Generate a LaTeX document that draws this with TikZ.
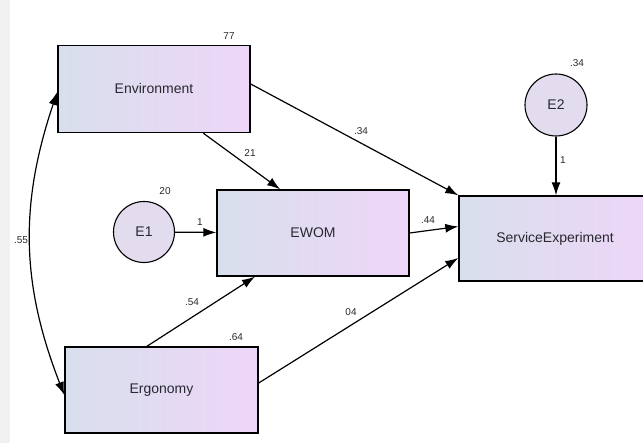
\documentclass[tikz,border=0pt]{standalone}
\usepackage{fontspec}
\setmainfont{Liberation Sans}
\usetikzlibrary{arrows.meta,positioning,calc}
\definecolor{boxleft}{RGB}{216,223,236}
\definecolor{boxright}{RGB}{238,214,248}
\definecolor{errfill}{RGB}{226,220,238}
\definecolor{edgegray}{RGB}{240,240,240}
\definecolor{inkgray}{RGB}{40,40,48}

\begin{document}
\begin{tikzpicture}[x=1pt, y=-1pt,
  var/.style={rectangle, draw, line width=1.4pt, left color=boxleft, right color=boxright, minimum width=192pt, minimum height=87pt, inner sep=0pt, text=inkgray, font=\fontsize{14}{16}\selectfont},
  err/.style={circle, draw, line width=1.1pt, fill=errfill, minimum size=61pt, inner sep=0pt, text=inkgray, font=\fontsize{14}{16}\selectfont},
  est/.style={inner sep=0pt, text=inkgray, font=\fontsize{10}{12}\selectfont},
  arrow/.style={line width=1.2pt, -{Latex[length=13pt, width=9pt]}}]

\useasboundingbox (0,0) rectangle (643,443);
\fill[edgegray] (0,0) rectangle (10,443);
\clip (0,0) rectangle (643,443);

% variables
\node[var] (env) at (154,89) {Environment};
\node[var, minimum height=86pt] (ewom) at (313,233) {EWOM};
\node[var, minimum width=192pt, minimum height=85pt] (se) at (555,238.5) {ServiceExperiment};
\node[var, minimum width=193pt, minimum height=86pt] (erg) at (161.5,390) {Ergonomy};

% error terms
\node[err] (e1) at (144,232) {E1};
\node[err, minimum size=62pt] (e2) at (556,105) {E2};

% paths
\draw[arrow] ($(env.south west)!0.755!(env.south east)$) -- ($(ewom.north west)!0.33!(ewom.north east)$);
\draw[arrow] ([yshift=5pt]env.east) -- (se.north west);
\draw[arrow] (e1) -- (ewom);
\draw[arrow] (ewom.east) -- ([yshift=12pt]se.west);
\draw[arrow] ($(erg.north west)!0.425!(erg.north east)$) -- ($(ewom.south west)!0.2!(ewom.south east)$);
\draw[arrow] ([yshift=7pt]erg.east) -- ([yshift=-19.5pt]se.west);
\draw[arrow] (e2) -- (se.north -| e2);
\draw[line width=1.2pt, {Latex[length=13pt, width=9pt]}-{Latex[length=13pt, width=9pt]}] ([yshift=-3pt]env.west) to[bend right=20] ([yshift=-5pt]erg.west);

% estimates
\node[est] (vEnv) at (229,36) {77};
\node[est] (vErg) at (236,337) {.64};
\node[est] (vE1) at (165,191) {20};
\node[est] (vE2) at (577,63) {.34};
\node[est] (wEnvEwom) at (250,153) {21};
\node[est] (wEnvSe) at (361,131) {.34};
\node[est] (wE1) at (200,222) {1};
\node[est] (wEwomSe) at (428,220) {.44};
\node[est] (wE2) at (563,160) {1};
\node[est] (wErgEwom) at (192,302) {.54};
\node[est] (wErgSe) at (351,312) {04};
\node[est] (cEnvErg) at (21,240) {.55};

\end{tikzpicture}
\end{document}
